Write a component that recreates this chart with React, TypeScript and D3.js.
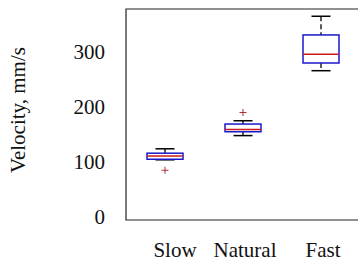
import React from "react";
import * as d3 from "d3";

const categories = ["Slow", "Natural", "Fast"];
const q1 = [105, 155, 280];
const medians = [111, 159, 296];
const q3 = [116, 169, 331];
const whiskerLow = [104, 148, 266];
const whiskerHigh = [124, 175, 365];
const outliers = [[85], [190], []];
const yTicks = [0, 100, 200, 300];

export default function App() {
  const width = 358;
  const height = 261;
  const plot = { left: 126, top: 9, right: 362, bottom: 220 };
  const font = "'Times New Roman', Times, 'Liberation Serif', 'DejaVu Serif', serif";

  const x = d3.scaleBand<string>().domain(categories).range([126, 360]).padding(0);
  const y = d3.scaleLinear().domain([0, 100]).range([217, 162]);

  const boxW = 36;
  const capW = 19;
  const textStyle = { fontFamily: font, fontSize: 21 };

  return (
    <svg
      width={width}
      height={height}
      style={{ position: "fixed", left: 0, top: 0, background: "#fff" }}
    >
      {/* frame */}
      <path
        d={`M${plot.right},${plot.top}H${plot.left}V${plot.bottom}H${plot.right}`}
        fill="none"
        stroke="#222"
        strokeWidth={1.2}
      />

      {yTicks.map(t => (
        <text
          key={t}
          x={105}
          y={y(t)}
          textAnchor="end"
          dominantBaseline="central"
          style={textStyle}
          fill="#111"
        >
          {t}
        </text>
      ))}

      <text
        transform={`translate(18,${110}) rotate(-90)`}
        textAnchor="middle"
        dominantBaseline="central"
        style={textStyle}
        fill="#111"
      >
        Velocity, mm/s
      </text>

      {categories.map((c, i) => {
        const cx = x(c)! + x.bandwidth() / 2;
        return (
          <g key={c}>
            {/* whiskers */}
            <line x1={cx} x2={cx} y1={y(whiskerHigh[i])} y2={y(q3[i])} stroke="#000" strokeWidth={1.3} strokeDasharray="5,3" />
            <line x1={cx} x2={cx} y1={y(q1[i])} y2={y(whiskerLow[i])} stroke="#000" strokeWidth={1.3} strokeDasharray="5,3" />
            <line x1={cx - capW / 2} x2={cx + capW / 2} y1={y(whiskerHigh[i])} y2={y(whiskerHigh[i])} stroke="#000" strokeWidth={1.5} />
            <line x1={cx - capW / 2} x2={cx + capW / 2} y1={y(whiskerLow[i])} y2={y(whiskerLow[i])} stroke="#000" strokeWidth={1.5} />
            {/* box */}
            <rect
              x={cx - boxW / 2}
              y={y(q3[i])}
              width={boxW}
              height={y(q1[i]) - y(q3[i])}
              fill="#fff"
              stroke="#1a1acc"
              strokeWidth={1.5}
            />
            <line x1={cx - boxW / 2} x2={cx + boxW / 2} y1={y(medians[i])} y2={y(medians[i])} stroke="#cc1a1a" strokeWidth={1.5} />
            {outliers[i].map((o, j) => (
              <path
                key={j}
                d={`M${cx - 3.5},${y(o)}h7M${cx},${y(o) - 3.5}v7`}
                stroke="#b03030"
                strokeWidth={1}
              />
            ))}
            <text
              x={i === 0 ? cx + 10 : cx + 2}
              y={250}
              textAnchor="middle"
              dominantBaseline="central"
              style={textStyle}
              fill="#111"
            >
              {c}
            </text>
          </g>
        );
      })}
    </svg>
  );
}
